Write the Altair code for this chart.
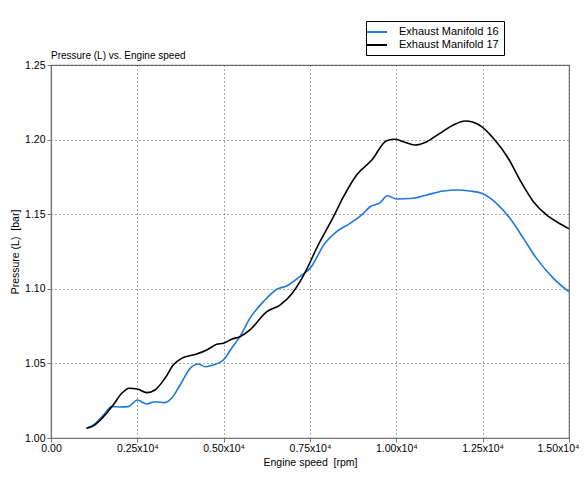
import altair as alt
import pandas as pd

series_names = ["Exhaust Manifold 16", "Exhaust Manifold 17"]
series_colors = ["#1e78dc", "#000000"]

rpm16 = [1030, 1230, 1520, 1760, 2000, 2240, 2500, 2770, 3010, 3300, 3490, 3740, 4030, 4270,
         4460, 4700, 4990, 5230, 5470, 5760, 6150, 6540, 6820, 7260, 7500, 7930, 8270, 8660,
         9000, 9240, 9530, 9740, 10010, 10490, 10880, 11360, 11750, 12130, 12470, 12900,
         13290, 13680, 14060, 14550, 15000]
p16 = [1.0065, 1.0087, 1.0154, 1.0210, 1.0208, 1.0210, 1.0255, 1.0228, 1.0243, 1.0237, 1.0266,
       1.0355, 1.0467, 1.0496, 1.0478, 1.0489, 1.0523, 1.0601, 1.0679, 1.0802, 1.0914, 1.0997,
       1.1019, 1.1092, 1.1137, 1.1305, 1.1383, 1.1439, 1.1495, 1.1550, 1.1577, 1.1624, 1.1602,
       1.1607, 1.1629, 1.1655, 1.1662, 1.1655, 1.1640, 1.1573, 1.1473, 1.1338, 1.1204, 1.1070,
       1.0980]

rpm17 = [1030, 1230, 1520, 1800, 2050, 2270, 2500, 2770, 3010, 3300, 3540, 3780, 4220, 4510,
         4800, 4990, 5230, 5470, 5760, 6250, 6630, 6970, 7210, 7370, 7690, 8180, 8470, 8850,
         9290, 9720, 9960, 10200, 10540, 10880, 11260, 11650, 11990, 12230, 12470, 12810,
         13240, 13580, 13970, 14350, 14690, 15000]
p17 = [1.0065, 1.0082, 1.0143, 1.0221, 1.0300, 1.0333, 1.0328, 1.0304, 1.0322, 1.0400, 1.0489,
       1.0534, 1.0563, 1.0590, 1.0628, 1.0635, 1.0662, 1.0679, 1.0724, 1.0847, 1.0891, 1.0965,
       1.1048, 1.1115, 1.1271, 1.1483, 1.1617, 1.1763, 1.1863, 1.1993, 1.2002, 1.1986, 1.1964,
       1.1986, 1.2042, 1.2098, 1.2125, 1.2116, 1.2087, 1.2009, 1.1875, 1.1729, 1.1584, 1.1495,
       1.1443, 1.1403]

x_ticks = [0, 2500, 5000, 7500, 10000, 12500, 15000]
y_ticks = [1.00, 1.05, 1.10, 1.15, 1.20, 1.25]

df = pd.concat([
    pd.DataFrame({"rpm": rpm16, "p": p16, "series": series_names[0], "order": range(len(rpm16))}),
    pd.DataFrame({"rpm": rpm17, "p": p17, "series": series_names[1], "order": range(len(rpm17))}),
])

FONT = "Liberation Sans"

chart = alt.Chart(df).mark_line(strokeWidth=1.6, interpolate="monotone").encode(
    x=alt.X("rpm:Q",
            scale=alt.Scale(domain=[0, 15000], nice=False, zero=False),
            axis=alt.Axis(values=x_ticks, title="Engine speed\u00a0 [rpm]",
                          labelExpr="datum.value == 0 ? '0.00' : format(datum.value/10000, '.2f') + 'x10\u2074'",
                          labelAlign={"condition": {"test": "datum.value == 15000", "value": "right"},
                                      "value": "center"},
                          labelOffset={"condition": {"test": "datum.value == 15000", "value": 10},
                                       "value": 0},
                          labelFlush=False, labelOverlap=False)),
    y=alt.Y("p:Q",
            scale=alt.Scale(domain=[1.0, 1.25], nice=False, zero=False),
            axis=alt.Axis(values=y_ticks, format=".2f", title="Pressure (L)\u00a0 [bar]")),
    color=alt.Color("series:N",
                    scale=alt.Scale(domain=series_names, range=series_colors),
                    legend=alt.Legend(title=None, orient="none", legendX=315, legendY=-44,
                                      symbolType="M-2,0H2", symbolStrokeWidth=2, symbolSize=100,
                                      symbolFillColor="transparent",
                                      strokeColor="#000000", fillColor="#ffffff",
                                      padding=5, rowPadding=2, labelFontSize=11,
                                      labelFont=FONT, labelColor="#000000", labelOffset=16,
                                      labelLimit=300)),
    order="order:Q",
    detail="series:N",
).properties(
    width=518,
    height=373,
    title=alt.TitleParams("Pressure (L) vs. Engine speed", anchor="start", frame="group",
                          fontSize=10, fontWeight="normal", font=FONT, color="#000000",
                          offset=4, dy=44),
    padding={"left": 43, "top": 57, "right": 11, "bottom": 30},
    autosize=alt.AutoSizeParams(type="none"),
).configure_view(
    stroke="#777777", strokeWidth=1.2
).configure_axis(
    grid=True, gridColor="#444444", gridDash=[1, 3], gridWidth=1, gridOpacity=0.9,
    domainColor="#777777", domainWidth=1.2, tickColor="#777777", tickSize=4,
    labelFont=FONT, labelFontSize=10.5, labelColor="#000000",
    titleFont=FONT, titleFontSize=10.5, titleFontWeight="normal", titleColor="#000000",
).configure_axisX(
    labelPadding=1, titlePadding=4
).configure_axisY(
    labelPadding=2, titlePadding=4
)

chart.save("out.html", embed_options={"renderer": "svg", "actions": False})
